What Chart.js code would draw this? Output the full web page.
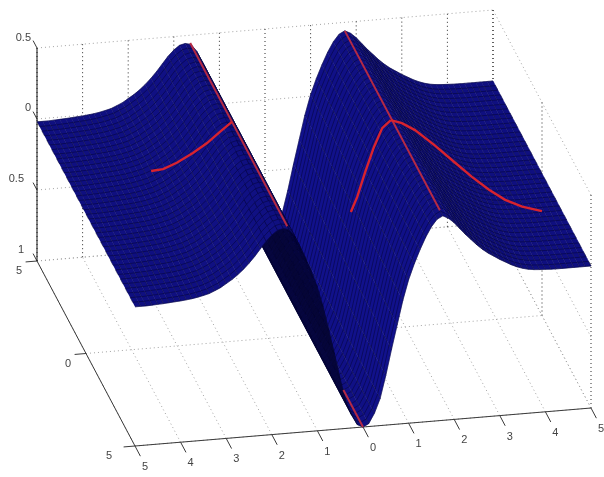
<!DOCTYPE html>
<html>
<head>
<meta charset="utf-8">
<style>
  html, body { margin: 0; padding: 0; background: #fff; }
  canvas { display: block; }
</style>
<script src="https://cdn.jsdelivr.net/npm/chart.js@4"></script>
</head>
<body>
<canvas id="surfChart" width="604" height="477"></canvas>
<script>
// surface profile, z along x (the sheet does not change along y)
const gridX = [-5,-4.875,-4.75,-4.625,-4.5,-4.375,-4.25,-4.125,-4,-3.875,-3.75,-3.625,-3.5,-3.375,-3.25,-3.125,-3,-2.875,-2.75,-2.625,-2.5,-2.375,-2.25,-2.125,-2,-1.875,-1.75,-1.625,-1.5,-1.375,-1.25,-1.125,-1,-0.875,-0.75,-0.625,-0.5,-0.375,-0.25,-0.125,0,0.125,0.25,0.375,0.5,0.625,0.75,0.875,1,1.125,1.25,1.375,1.5,1.625,1.75,1.875,2,2.125,2.25,2.375,2.5,2.625,2.75,2.875,3,3.125,3.25,3.375,3.5,3.625,3.75,3.875,4,4.125,4.25,4.375,4.5,4.625,4.75,4.875,5];
const surfZ = [-0.02,-0.02,-0.02,-0.018,-0.016,-0.014,-0.011,-0.008,-0.005,-0.001,0.004,0.011,0.02,0.03,0.047,0.065,0.09,0.115,0.145,0.18,0.22,0.265,0.315,0.365,0.405,0.435,0.445,0.435,0.385,0.305,0.215,0.12,0.01,-0.13,-0.30,-0.47,-0.65,-0.81,-0.91,-0.98,-1,-0.98,-0.91,-0.81,-0.65,-0.47,-0.30,-0.13,0.01,0.12,0.215,0.30,0.37,0.42,0.44,0.42,0.385,0.34,0.295,0.255,0.215,0.18,0.15,0.125,0.10,0.078,0.056,0.038,0.024,0.014,0.008,0.005,0.003,0.001,0,0,0,0,0,0,0];
const gridY = [-5,-4.75,-4.5,-4.25,-4,-3.75,-3.5,-3.25,-3,-2.75,-2.5,-2.25,-2,-1.75,-1.5,-1.25,-1,-0.75,-0.5,-0.25,0,0.25,0.5,0.75,1,1.25,1.5,1.75,2,2.25,2.5,2.75,3,3.25,3.5,3.75,4,4.25,4.5,4.75,5];

// red curves on the surface
const ridgeLeftX = [-1.64,-1.64];
const ridgeLeftY = [-4.9,5];
const ridgeLeftZ = [0.445,0.445];
const ridgeRightX = [1.75,1.75];
const ridgeRightY = [-4.7,5];
const ridgeRightZ = [0.44,0.44];
const valleyX = [0,0];
const valleyY = [-5,-3];
const valleyZ = [-1,-1];
const curveAX = [-3.26,-3.02,-2.74,-2.42,-2.13,-1.87,-1.65];
const curveAY = [1.45,1.35,1.25,1.10,1.00,0.90,0.70];
const curveAZ = [0.05,0.07,0.12,0.20,0.275,0.36,0.45];
const curveBX = [1.77,1.97,2.215,2.59,2.96,3.27,3.58,3.87,4.2,4.58];
const curveBY = [0.4,0.2,0,-0.3,-0.6,-0.9,-1.2,-1.5,-1.7,-1.95];
const curveBZ = [0.41,0.41,0.38,0.30,0.21,0.14,0.08,0.04,0.01,0];
const curveCX = [1.77,1.57,1.38,1.17,0.98,0.83];
const curveCY = [0.4,0.35,0.3,0.25,0.15,0.1];
const curveCZ = [0.41,0.366,0.245,0.074,-0.077,-0.173];

// axes
const ticksX = [-5,-4,-3,-2,-1,0,1,2,3,4,5];
const ticksY = [-5,0,5];
const ticksZ = [0.5,0,-0.5,-1];
const labelsX = ['5','4','3','2','1','0','1','2','3','4','5'];
const labelsY = ['5','0','5'];
const labelsZ = ['0.5','0','0.5','1'];

// camera, fitted to the corners of the box in the picture
function project(x, y, z) {
    const u = (x + 5) / 10;
    const v = (y + 5) / 10;
    return {
        x: 135 + 456 * u - 98 * v,
        y: 446 - 38 * u - 185 * v - 142 * (z + 1)
    };
}

function line3d(xs, ys, zs, color, width, dash) {
    return {
        data: xs.map((x, i) => project(x, ys[i], zs[i])),
        showLine: true,
        borderColor: color,
        borderWidth: width,
        borderDash: dash || [],
        pointRadius: 0,
        fill: false
    };
}

function seg3d(a, b, color, width, dash) {
    return line3d([a[0], b[0]], [a[1], b[1]], [a[2], b[2]], color, width, dash);
}

function slopeAt(i) {
    const a = Math.max(0, i - 2);
    const b = Math.min(gridX.length - 1, i + 3);
    return (surfZ[b] - surfZ[a]) / (gridX[b] - gridX[a]);
}

function stripColor(slope) {
    const k = slope > 0 ? 10 : 48;
    const b = Math.max(58, Math.min(150, 128 + k * slope));
    const c = Math.round(b * 0.12);
    return `rgb(${c},${c},${Math.round(b)})`;
}

function buildSurface() {
    const out = [];
    // near strips first: dataset 0 is painted last
    for (let i = 0; i < gridX.length - 1; i++) {
        const x0 = gridX[i], x1 = gridX[i + 1];
        const z0 = surfZ[i], z1 = surfZ[i + 1];
        const mesh = [];
        gridY.forEach((y, j) => {
            if (j % 2 === 0) {
                mesh.push(project(x0, y, z0), project(x1, y, z1));
            } else {
                mesh.push(project(x1, y, z1), project(x0, y, z0));
            }
        });
        out.push({
            data: mesh,
            showLine: true,
            borderColor: 'rgba(0,0,30,0.5)',
            borderWidth: 0.8,
            pointRadius: 0,
            fill: false
        });
        const color = stripColor(slopeAt(i));
        out.push({
            data: [project(x0, -5, z0), project(x1, -5, z1), project(x1, 5, z1), project(x0, 5, z0)],
            showLine: true,
            borderColor: color,
            borderWidth: 0.5,
            backgroundColor: color,
            pointRadius: 0,
            fill: 'shape'
        });
    }
    return out;
}

function buildGrid() {
    const out = [];
    const dark = '#2c2c2c';
    const light = '#a2a2a2';
    const dots = [1, 3];
    ticksX.forEach(x => {
        out.push(seg3d([x, -5, -1], [x, 5, -1], light, 1, dots));
        out.push(seg3d([x, 5, -1], [x, 5, 0.5], dark, 1, dots));
    });
    ticksY.forEach(y => {
        out.push(seg3d([-5, y, -1], [5, y, -1], light, 1, dots));
        out.push(seg3d([5, y, -1], [5, y, 0.5], dark, 1, dots));
    });
    ticksZ.forEach(z => {
        out.push(seg3d([-5, 5, z], [5, 5, z], light, 1, dots));
        out.push(seg3d([5, -5, z], [5, 5, z], light, 1, dots));
    });
    return out;
}

function buildAxes() {
    const out = [];
    const ink = '#3a3a3a';
    out.push(seg3d([-5, 5, -1], [-5, 5, 0.5], '#111111', 1));
    out.push(seg3d([-5, -5, -1], [-5, 5, -1], ink, 1));
    out.push(seg3d([-5, -5, -1], [5, -5, -1], ink, 1));
    ticksX.forEach(x => out.push(seg3d([x, -5, -1], [x, -5.55, -1], ink, 1)));
    ticksY.forEach(y => out.push(seg3d([-5, y, -1], [-5.25, y, -1], ink, 1)));
    ticksZ.forEach(z => out.push(seg3d([-5, 5, z], [-5, 5.4, z], ink, 1)));
    return out;
}

const red = '#d8232e';
const redDull = '#b42a44';
const redLines = [
    line3d(curveAX, curveAY, curveAZ, red, 2.4),
    line3d(curveBX, curveBY, curveBZ, red, 2.4),
    line3d(curveCX, curveCY, curveCZ, red, 2.4),
    line3d(ridgeLeftX, ridgeLeftY, ridgeLeftZ, redDull, 2),
    line3d(ridgeRightX, ridgeRightY, ridgeRightZ, redDull, 2),
    line3d(valleyX, valleyY, valleyZ, redDull, 2)
];

const tickText = {
    id: 'tickText',
    afterDatasetsDraw(chart) {
        const ctx = chart.ctx;
        const sx = chart.scales.x;
        const sy = chart.scales.y;
        ctx.save();
        ctx.font = '11px "Liberation Sans"';
        ctx.fillStyle = '#444444';
        ctx.textBaseline = 'middle';
        ctx.textAlign = 'center';
        ticksX.forEach((x, i) => {
            const p = project(x, -5, -1);
            ctx.fillText(labelsX[i], sx.getPixelForValue(p.x) + 10, sy.getPixelForValue(p.y) + 21);
        });
        ticksY.forEach((y, i) => {
            const p = project(-5, y, -1);
            ctx.fillText(labelsY[i], sx.getPixelForValue(p.x) + (i === 0 ? -26 : -18), sy.getPixelForValue(p.y) + 10);
        });
        ctx.textAlign = 'right';
        ticksZ.forEach((z, i) => {
            const p = project(-5, 5, z);
            ctx.fillText(labelsZ[i], sx.getPixelForValue(p.x) - (i < 2 ? 6 : 13), sy.getPixelForValue(p.y) - (i === 0 ? 10 : 11));
        });
        ctx.restore();
    }
};

new Chart(document.getElementById('surfChart').getContext('2d'), {
    type: 'scatter',
    data: {
        datasets: [...redLines, ...buildSurface(), ...buildAxes(), ...buildGrid()]
    },
    options: {
        responsive: false,
        animation: false,
        events: [],
        layout: { padding: 0 },
        scales: {
            x: { type: 'linear', display: false, min: 0, max: 604 },
            y: { type: 'linear', display: false, min: 0, max: 477, reverse: true }
        },
        plugins: {
            legend: { display: false },
            tooltip: { enabled: false }
        }
    },
    plugins: [tickText]
});
</script>
</body>
</html>
